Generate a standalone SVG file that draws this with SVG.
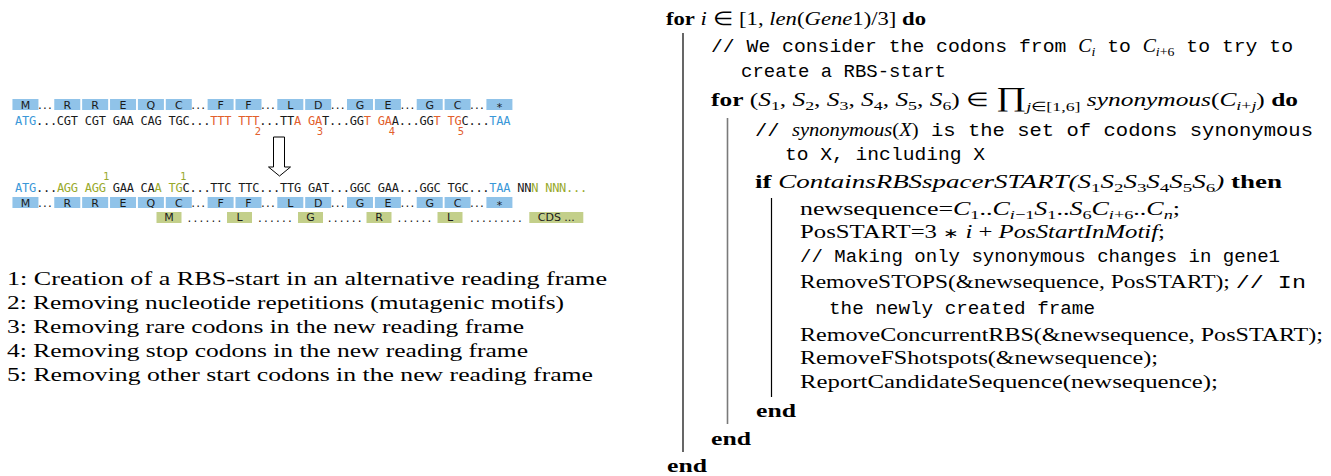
<svg xmlns="http://www.w3.org/2000/svg" width="1331" height="476" viewBox="0 0 1331 476" xml:space="preserve">
<style>
.bb{fill:#90c3e9}
.gb{fill:#c3cf8a}
.pl{font-family:"DejaVu Sans",sans-serif;font-size:11px;fill:#1a1a1a;text-anchor:middle}
.pd{font-family:"DejaVu Sans",sans-serif;font-size:12px;fill:#1a1a1a;letter-spacing:1.2px}
.gd{font-family:"DejaVu Sans",sans-serif;font-size:12px;fill:#1a1a1a;letter-spacing:2.18px;text-anchor:middle}
.dna{font-family:"DejaVu Sans Mono",monospace;font-size:12px;letter-spacing:-0.25px;fill:#1a1a1a}
.cb{fill:#3a98d8}.co{fill:#e2602d}.cg{fill:#98a92b}
.num{font-family:"DejaVu Sans",sans-serif;font-size:10px;text-anchor:middle}
.lg{font-family:"Liberation Serif",serif;font-size:19px;fill:#000}
.rm{font-family:"Liberation Serif",serif;font-size:18.5px;fill:#000}
.b{font-weight:bold}
.it{font-style:italic}
.tt{font-family:"Liberation Mono",monospace;font-size:18.5px}
.sb{font-size:13px}
.bar{stroke:#000;stroke-width:1.2;fill:none}
.bar2{stroke:#7a7a7a;stroke-width:1.6;fill:none}
</style>
<rect width="1331" height="476" fill="#fff"/>

<g id="seq-original">
<rect class="bb" x="12.45" y="99" width="26" height="11"/><rect class="bb" x="54.27" y="99" width="26" height="11"/><rect class="bb" x="82.15" y="99" width="26" height="11"/><rect class="bb" x="110.03" y="99" width="26" height="11"/><rect class="bb" x="137.91" y="99" width="26" height="11"/><rect class="bb" x="165.79" y="99" width="26" height="11"/><rect class="bb" x="207.61" y="99" width="26" height="11"/><rect class="bb" x="235.49" y="99" width="26" height="11"/><rect class="bb" x="277.31" y="99" width="26" height="11"/><rect class="bb" x="305.19" y="99" width="26" height="11"/><rect class="bb" x="347.01" y="99" width="26" height="11"/><rect class="bb" x="374.89" y="99" width="26" height="11"/><rect class="bb" x="416.71" y="99" width="26" height="11"/><rect class="bb" x="444.59" y="99" width="26" height="11"/><rect class="bb" x="486.41" y="99" width="26" height="11"/>
<text class="pl" x="25.45" y="108.5">M</text><text class="pl" x="67.27" y="108.5">R</text><text class="pl" x="95.15" y="108.5">R</text><text class="pl" x="123.03" y="108.5">E</text><text class="pl" x="150.91" y="108.5">Q</text><text class="pl" x="178.79" y="108.5">C</text><text class="pl" x="220.61" y="108.5">F</text><text class="pl" x="248.49" y="108.5">F</text><text class="pl" x="290.31" y="108.5">L</text><text class="pl" x="318.19" y="108.5">D</text><text class="pl" x="360.01" y="108.5">G</text><text class="pl" x="387.89" y="108.5">E</text><text class="pl" x="429.71" y="108.5">G</text><text class="pl" x="457.59" y="108.5">C</text><text class="pl" x="499.41" y="110.5">*</text>
<text class="pd" x="37.9" y="109">...</text><text class="pd" x="191.3" y="109">...</text><text class="pd" x="261" y="109">...</text><text class="pd" x="330.7" y="109">...</text><text class="pd" x="400.4" y="109">...</text><text class="pd" x="470.1" y="109">...</text>
<text class="dna" x="15" y="125"><tspan class="cb">ATG</tspan>...CGT CGT GAA CAG TGC...<tspan class="co">TTT TTT</tspan>...TT<tspan class="co">A GA</tspan>T...GG<tspan class="co">T GA</tspan>A...GG<tspan class="co">T TG</tspan>C...<tspan class="cb">TAA</tspan></text>
<text class="num co" x="258" y="135">2</text><text class="num co" x="320" y="135">3</text><text class="num co" x="392" y="135">4</text><text class="num co" x="461" y="135">5</text>
</g>

<g id="connectors">
<path d="M273.5,137 H284.5 V167 H290.5 L279.5,176 L268.5,167 H273.5 Z" fill="#fff" stroke="#000" stroke-width="1"/>
</g>

<g id="seq-modified">
<text class="num cg" x="106.5" y="180">1</text><text class="num cg" x="183.5" y="180">1</text>
<text class="dna" x="15" y="192"><tspan class="cb">ATG</tspan>...<tspan class="cg">AGG AGG</tspan> GAA CA<tspan class="cg">A</tspan> <tspan class="cg">TG</tspan>C...TTC TTC...TTG GAT...GGC GAA...GGC TGC...<tspan class="cb">TAA</tspan> NN<tspan class="cg">N NNN...</tspan></text>
<rect class="bb" x="12.45" y="197" width="26" height="11"/><rect class="bb" x="54.27" y="197" width="26" height="11"/><rect class="bb" x="82.15" y="197" width="26" height="11"/><rect class="bb" x="110.03" y="197" width="26" height="11"/><rect class="bb" x="137.91" y="197" width="26" height="11"/><rect class="bb" x="165.79" y="197" width="26" height="11"/><rect class="bb" x="207.61" y="197" width="26" height="11"/><rect class="bb" x="235.49" y="197" width="26" height="11"/><rect class="bb" x="277.31" y="197" width="26" height="11"/><rect class="bb" x="305.19" y="197" width="26" height="11"/><rect class="bb" x="347.01" y="197" width="26" height="11"/><rect class="bb" x="374.89" y="197" width="26" height="11"/><rect class="bb" x="416.71" y="197" width="26" height="11"/><rect class="bb" x="444.59" y="197" width="26" height="11"/><rect class="bb" x="486.41" y="197" width="26" height="11"/>
<text class="pl" x="25.45" y="206.5">M</text><text class="pl" x="67.27" y="206.5">R</text><text class="pl" x="95.15" y="206.5">R</text><text class="pl" x="123.03" y="206.5">E</text><text class="pl" x="150.91" y="206.5">Q</text><text class="pl" x="178.79" y="206.5">C</text><text class="pl" x="220.61" y="206.5">F</text><text class="pl" x="248.49" y="206.5">F</text><text class="pl" x="290.31" y="206.5">L</text><text class="pl" x="318.19" y="206.5">D</text><text class="pl" x="360.01" y="206.5">G</text><text class="pl" x="387.89" y="206.5">E</text><text class="pl" x="429.71" y="206.5">G</text><text class="pl" x="457.59" y="206.5">C</text><text class="pl" x="499.41" y="208.5">*</text>
<text class="pd" x="37.9" y="207">...</text><text class="pd" x="191.3" y="207">...</text><text class="pd" x="261" y="207">...</text><text class="pd" x="330.7" y="207">...</text><text class="pd" x="400.4" y="207">...</text><text class="pd" x="470.1" y="207">...</text>
<rect class="gb" x="156.5" y="212" width="25" height="11"/><rect class="gb" x="227" y="212" width="25" height="11"/><rect class="gb" x="298" y="212" width="25" height="11"/><rect class="gb" x="366.5" y="212" width="25" height="11"/><rect class="gb" x="437.5" y="212" width="25" height="11"/><rect class="gb" x="529.3" y="212" width="54" height="11"/>
<text class="pl" x="169" y="221">M</text><text class="pl" x="239.5" y="221">L</text><text class="pl" x="310.5" y="221">G</text><text class="pl" x="379" y="221">R</text><text class="pl" x="450" y="221">L</text><text class="pl" x="556.3" y="221">CDS ...</text>
<text class="gd" x="205.5" y="222">......</text><text class="gd" x="276" y="222">......</text><text class="gd" x="345.8" y="222">......</text><text class="gd" x="415.5" y="222">......</text><text class="gd" x="497" y="222">.........</text>
</g>

<g id="legend">
<text class="lg" x="7" y="285" textLength="600" lengthAdjust="spacingAndGlyphs">1: Creation of a RBS-start in an alternative reading frame</text>
<text class="lg" x="7" y="309" textLength="557" lengthAdjust="spacingAndGlyphs">2: Removing nucleotide repetitions (mutagenic motifs)</text>
<text class="lg" x="7" y="333" textLength="517" lengthAdjust="spacingAndGlyphs">3: Removing rare codons in the new reading frame</text>
<text class="lg" x="7" y="356.5" textLength="521" lengthAdjust="spacingAndGlyphs">4: Removing stop codons in the new reading frame</text>
<text class="lg" x="7" y="380.5" textLength="586" lengthAdjust="spacingAndGlyphs">5: Removing other start codons in the new reading frame</text>
</g>

<g id="algorithm">
<line class="bar" x1="683" y1="33" x2="683" y2="452"/>
<line class="bar2" x1="727.5" y1="118" x2="727.5" y2="424"/>
<line class="bar" x1="771.5" y1="198" x2="771.5" y2="397"/>
<text class="rm" x="666" y="25" textLength="260" lengthAdjust="spacingAndGlyphs"><tspan class="b">for</tspan> <tspan class="it">i</tspan> ∈ [1, <tspan class="it">len</tspan>(<tspan class="it">Gene</tspan>1)/3] <tspan class="b">do</tspan></text>
<text class="rm" x="711" y="52" textLength="582" lengthAdjust="spacingAndGlyphs"><tspan class="tt">// We consider the codons from </tspan><tspan class="it">C</tspan><tspan class="sb it" dy="4">i</tspan><tspan class="tt" dy="-4"> to </tspan><tspan class="it">C</tspan><tspan class="sb" dy="4"><tspan class="it">i</tspan>+6</tspan><tspan class="tt" dy="-4"> to try to</tspan></text>
<text class="rm" x="741" y="77" textLength="205" lengthAdjust="spacingAndGlyphs"><tspan class="tt">create a RBS-start</tspan></text>
<text class="rm" x="711" y="106" textLength="587" lengthAdjust="spacingAndGlyphs"><tspan class="b">for</tspan> (<tspan class="it">S</tspan><tspan class="sb" dy="4">1</tspan><tspan dy="-4">, </tspan><tspan class="it">S</tspan><tspan class="sb" dy="4">2</tspan><tspan dy="-4">, </tspan><tspan class="it">S</tspan><tspan class="sb" dy="4">3</tspan><tspan dy="-4">, </tspan><tspan class="it">S</tspan><tspan class="sb" dy="4">4</tspan><tspan dy="-4">, </tspan><tspan class="it">S</tspan><tspan class="sb" dy="4">5</tspan><tspan dy="-4">, </tspan><tspan class="it">S</tspan><tspan class="sb" dy="4">6</tspan><tspan dy="-4">) ∈ </tspan><tspan style="font-size:27px">∏</tspan><tspan class="sb" dy="5"><tspan class="it">j</tspan>∈[1,6]</tspan><tspan dy="-5"> </tspan><tspan class="it">synonymous</tspan>(<tspan class="it">C</tspan><tspan class="sb it" dy="4">i</tspan><tspan class="sb" dy="0">+</tspan><tspan class="sb it">j</tspan><tspan dy="-4">) </tspan><tspan class="b">do</tspan></text>
<text class="rm" x="755" y="136" textLength="558" lengthAdjust="spacingAndGlyphs"><tspan class="tt">// </tspan><tspan class="it">synonymous</tspan>(<tspan class="it">X</tspan>)<tspan class="tt"> is the set of codons synonymous</tspan></text>
<text class="rm" x="785" y="160" textLength="200" lengthAdjust="spacingAndGlyphs"><tspan class="tt">to X, including X</tspan></text>
<text class="rm" x="755" y="188" textLength="527" lengthAdjust="spacingAndGlyphs"><tspan class="b">if</tspan> <tspan class="it">ContainsRBSspacerSTART(S</tspan><tspan class="sb" dy="4">1</tspan><tspan class="it" dy="-4">S</tspan><tspan class="sb" dy="4">2</tspan><tspan class="it" dy="-4">S</tspan><tspan class="sb" dy="4">3</tspan><tspan class="it" dy="-4">S</tspan><tspan class="sb" dy="4">4</tspan><tspan class="it" dy="-4">S</tspan><tspan class="sb" dy="4">5</tspan><tspan class="it" dy="-4">S</tspan><tspan class="sb" dy="4">6</tspan><tspan class="it" dy="-4">)</tspan> <tspan class="b">then</tspan></text>
<text class="rm" x="800" y="215" textLength="380" lengthAdjust="spacingAndGlyphs">newsequence=<tspan class="it">C</tspan><tspan class="sb" dy="4">1</tspan><tspan dy="-4">..</tspan><tspan class="it">C</tspan><tspan class="sb" dy="4"><tspan class="it">i</tspan>−1</tspan><tspan class="it" dy="-4">S</tspan><tspan class="sb" dy="4">1</tspan><tspan dy="-4">..</tspan><tspan class="it">S</tspan><tspan class="sb" dy="4">6</tspan><tspan class="it" dy="-4">C</tspan><tspan class="sb" dy="4"><tspan class="it">i</tspan>+6</tspan><tspan dy="-4">..</tspan><tspan class="it">C</tspan><tspan class="sb it" dy="4">n</tspan><tspan dy="-4">;</tspan></text>
<text class="rm" x="800" y="238" textLength="365" lengthAdjust="spacingAndGlyphs">PosSTART=3 <tspan style="font-size:14px">∗</tspan> <tspan class="it">i</tspan> + <tspan class="it">PosStartInMotif</tspan>;</text>
<text class="rm" x="800" y="262" textLength="480" lengthAdjust="spacingAndGlyphs"><tspan class="tt">// Making only synonymous changes in gene1</tspan></text>
<text class="rm" x="800" y="288" textLength="506" lengthAdjust="spacingAndGlyphs">RemoveSTOPS(&amp;newsequence, PosSTART); <tspan class="tt">// In</tspan></text>
<text class="rm" x="829" y="314" textLength="266" lengthAdjust="spacingAndGlyphs"><tspan class="tt">the newly created frame</tspan></text>
<text class="rm" x="800" y="341" textLength="523" lengthAdjust="spacingAndGlyphs">RemoveConcurrentRBS(&amp;newsequence, PosSTART);</text>
<text class="rm" x="800" y="364" textLength="358" lengthAdjust="spacingAndGlyphs">RemoveFShotspots(&amp;newsequence);</text>
<text class="rm" x="800" y="388" textLength="418" lengthAdjust="spacingAndGlyphs">ReportCandidateSequence(newsequence);</text>
<text class="rm b" x="756" y="417" textLength="40" lengthAdjust="spacingAndGlyphs">end</text>
<text class="rm b" x="711" y="445" textLength="40" lengthAdjust="spacingAndGlyphs">end</text>
<text class="rm b" x="667" y="472" textLength="40" lengthAdjust="spacingAndGlyphs">end</text>
</g>
</svg>
